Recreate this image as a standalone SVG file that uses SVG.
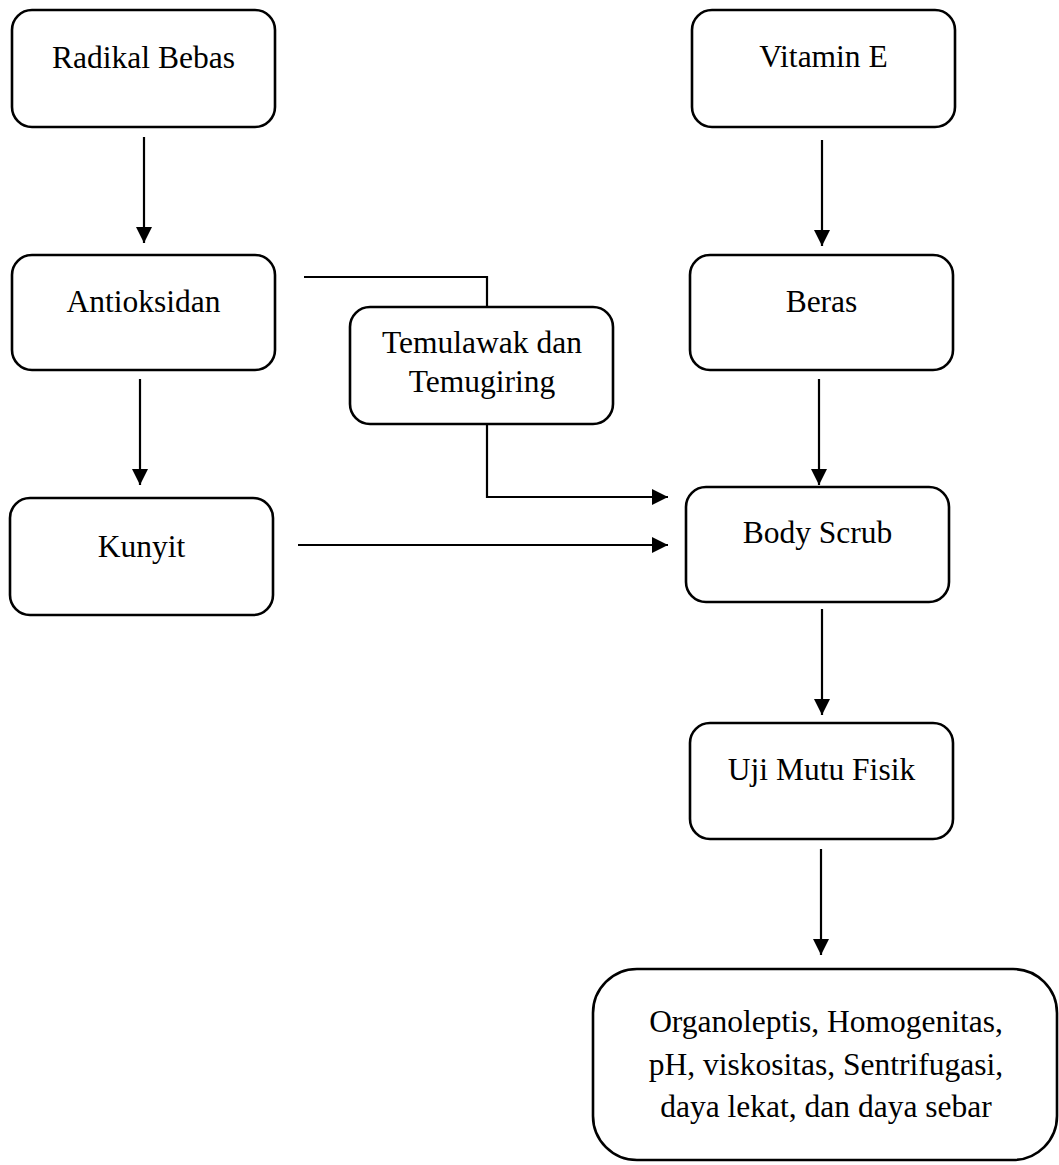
<svg xmlns="http://www.w3.org/2000/svg" width="1059" height="1165" viewBox="0 0 1059 1165">
<style>
.box{fill:#fff;stroke:#000;stroke-width:2.6}
.t{font-family:"Liberation Serif","Times New Roman",serif;font-size:31.5px;fill:#000;text-anchor:middle}
.c{fill:none;stroke:#000;stroke-width:2.2}
</style>
<defs>
<marker id="ah" markerUnits="userSpaceOnUse" markerWidth="16" markerHeight="16" viewBox="0 0 16 16" refX="16" refY="8" orient="auto">
<path d="M0,0 L16,8 L0,16 Z" fill="#000"/>
</marker>
</defs>
<rect width="1059" height="1165" fill="#fff"/>
<g id="connectors">
<line class="c" x1="144" y1="137" x2="144" y2="243" marker-end="url(#ah)"/>
<line class="c" x1="140" y1="379" x2="140" y2="485" marker-end="url(#ah)"/>
<line class="c" x1="822" y1="140" x2="822" y2="246" marker-end="url(#ah)"/>
<line class="c" x1="819" y1="379" x2="819" y2="485" marker-end="url(#ah)"/>
<line class="c" x1="822" y1="609" x2="822" y2="715" marker-end="url(#ah)"/>
<line class="c" x1="821" y1="849" x2="821" y2="955" marker-end="url(#ah)"/>
<polyline class="c" points="304,277 487,277 487,307"/>
<polyline class="c" points="487,424 487,497 668,497" marker-end="url(#ah)"/>
<line class="c" x1="298" y1="545" x2="668" y2="545" marker-end="url(#ah)"/>
</g>
<g id="radikal-bebas">
<rect class="box" x="12" y="10" width="263" height="117" rx="20"/>
<text class="t" x="143.5" y="68">Radikal Bebas</text>
</g>
<g id="antioksidan">
<rect class="box" x="12" y="255" width="263" height="115" rx="20"/>
<text class="t" x="143.5" y="312">Antioksidan</text>
</g>
<g id="kunyit">
<rect class="box" x="10" y="498" width="263" height="117" rx="20"/>
<text class="t" x="141.5" y="557">Kunyit</text>
</g>
<g id="temulawak">
<rect class="box" x="350" y="307" width="263" height="117" rx="20"/>
<text class="t" x="482" y="353">Temulawak dan</text>
<text class="t" x="482" y="392">Temugiring</text>
</g>
<g id="vitamin-e">
<rect class="box" x="692" y="10" width="263" height="117" rx="20"/>
<text class="t" x="823.5" y="67">Vitamin E</text>
</g>
<g id="beras">
<rect class="box" x="690" y="255" width="263" height="115" rx="20"/>
<text class="t" x="821.5" y="312">Beras</text>
</g>
<g id="body-scrub">
<rect class="box" x="686" y="487" width="263" height="115" rx="20"/>
<text class="t" x="817.5" y="543">Body Scrub</text>
</g>
<g id="uji-mutu-fisik">
<rect class="box" x="690" y="723" width="263" height="116" rx="20"/>
<text class="t" x="821.5" y="780">Uji Mutu Fisik</text>
</g>
<g id="parameter-uji">
<rect class="box" x="593" y="969" width="464" height="191" rx="44"/>
<text class="t" x="826" y="1032">Organoleptis, Homogenitas,</text>
<text class="t" x="826" y="1075">pH, viskositas, Sentrifugasi,</text>
<text class="t" x="826" y="1117">daya lekat, dan daya sebar</text>
</g>
</svg>
